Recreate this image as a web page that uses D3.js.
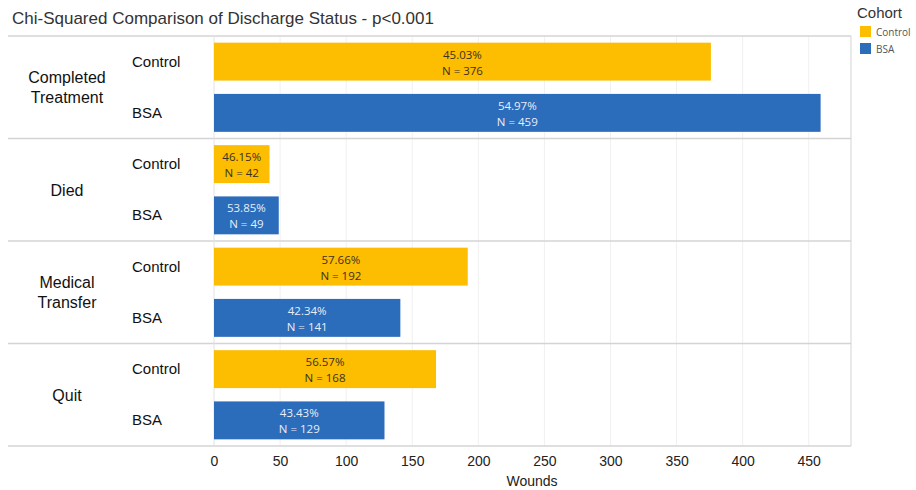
<!DOCTYPE html>
<html>
<head>
<meta charset="utf-8">
<script src="https://cdn.jsdelivr.net/npm/d3@7"></script>
<style>
  body { margin: 0; background: #fff; }
  svg { display: block; font-family: "Liberation Sans", Arial, sans-serif; }
</style>
</head>
<body>
<svg id="chart"></svg>
<script>
// Data
var groups = ["Completed Treatment", "Died", "Medical Transfer", "Quit"];
var groupLines = [["Completed", "Treatment"], ["Died"], ["Medical", "Transfer"], ["Quit"]];
var cohorts = ["Control", "BSA"];
var controlValues = [376, 42, 192, 168];
var bsaValues = [459, 49, 141, 129];
var controlPct = ["45.03%", "46.15%", "57.66%", "56.57%"];
var bsaPct = ["54.97%", "53.85%", "42.34%", "43.43%"];
var xTicks = [0, 50, 100, 150, 200, 250, 300, 350, 400, 450];

var colors = { Control: "#FDBD00", BSA: "#2B6CBB" };

var width = 916, height = 490;
var svg = d3.select("#chart").attr("width", width).attr("height", height);

// plot region (note: "top" is reserved on window, so use plotTop)
var plotLeft = 214, plotRight = 851, plotTop = 36, plotBottom = 446;

var x = d3.scaleLinear().domain([0, 482]).range([plotLeft, plotRight]);
var yGroup = d3.scaleBand().domain(groups).range([plotTop, plotBottom]);
var ySub = d3.scaleBand().domain(cohorts).range([0, yGroup.bandwidth()]).paddingInner(0.26).paddingOuter(0.13);

// build rows from arrays
var rows = [];
groups.forEach(function(g, i) {
    rows.push({ group: g, cohort: "Control", value: controlValues[i], pct: controlPct[i] });
    rows.push({ group: g, cohort: "BSA", value: bsaValues[i], pct: bsaPct[i] });
});

// title
svg.append("text")
    .attr("x", 12).attr("y", 24)
    .attr("font-size", "17px")
    .attr("fill", "#333")
    .text("Chi-Squared Comparison of Discharge Status - p<0.001");

// vertical gridlines
svg.append("g")
    .selectAll("line")
    .data(xTicks.slice(1))
    .enter().append("line")
        .attr("x1", d => x(d)).attr("x2", d => x(d))
        .attr("y1", plotTop).attr("y2", plotBottom)
        .attr("stroke", "#f0f0f0")
        .attr("stroke-width", 1);

// horizontal panel lines
var sepYs = groups.map(g => yGroup(g)).concat([plotBottom]);
svg.append("g")
    .selectAll("line")
    .data(sepYs)
    .enter().append("line")
        .attr("x1", 8).attr("x2", plotRight)
        .attr("y1", d => d).attr("y2", d => d)
        .attr("stroke", "#d4d4d4")
        .attr("stroke-width", 1.5);

// plot left/right borders
svg.append("line")
    .attr("x1", plotLeft).attr("x2", plotLeft).attr("y1", plotTop).attr("y2", plotBottom)
    .attr("stroke", "#e2e2e2");
svg.append("line")
    .attr("x1", plotRight).attr("x2", plotRight).attr("y1", plotTop).attr("y2", plotBottom)
    .attr("stroke", "#d4d4d4");

// group labels
var gl = svg.append("g").selectAll("text")
    .data(groups)
    .enter().append("text")
        .attr("x", 67)
        .attr("text-anchor", "middle")
        .attr("font-size", "16px")
        .attr("fill", "#111");
gl.each(function(g, i) {
    var lines = groupLines[i];
    var cy = yGroup(g) + yGroup.bandwidth() / 2;
    var t = d3.select(this);
    lines.forEach(function(l, j) {
        t.append("tspan")
            .attr("x", 67)
            .attr("y", cy + 6 + (j - (lines.length - 1) / 2) * 20)
            .text(l);
    });
});

// cohort labels
svg.append("g").selectAll("text")
    .data(rows)
    .enter().append("text")
        .attr("x", 132)
        .attr("y", d => yGroup(d.group) + ySub(d.cohort) + ySub.bandwidth() / 2 + 5)
        .attr("font-size", "15px")
        .attr("fill", "#111")
        .text(d => d.cohort);

// bars
svg.append("g").selectAll("rect")
    .data(rows)
    .enter().append("rect")
        .attr("x", x(0))
        .attr("y", d => yGroup(d.group) + ySub(d.cohort))
        .attr("width", d => x(d.value) - x(0))
        .attr("height", ySub.bandwidth())
        .attr("fill", d => colors[d.cohort]);

// bar labels
var bl = svg.append("g").selectAll("text")
    .data(rows)
    .enter().append("text")
        .attr("text-anchor", "middle")
        .attr("font-family", "'Open Sans', 'Noto Sans', sans-serif")
        .attr("font-size", "11.5px")
        .attr("fill", d => d.cohort == "Control" ? "#3a3220" : "#e8eef8");
bl.each(function(d) {
    var cx = (x(0) + x(d.value)) / 2;
    var cy = yGroup(d.group) + ySub(d.cohort) + ySub.bandwidth() / 2;
    var t = d3.select(this);
    t.append("tspan").attr("x", cx).attr("y", cy - 3).text(d.pct);
    t.append("tspan").attr("x", cx).attr("y", cy + 13).text("N = " + d.value);
});

// x axis
var xAxis = d3.axisBottom(x).tickValues(xTicks).tickSize(0).tickPadding(10);
var ax = svg.append("g")
    .attr("transform", "translate(0," + plotBottom + ")")
    .call(xAxis);
ax.select(".domain").remove();
ax.selectAll("text")
    .attr("font-family", "'Liberation Sans Narrow', 'Arial Narrow', sans-serif")
    .attr("font-size", "14px")
    .attr("fill", "#222");

svg.append("text")
    .attr("x", 532).attr("y", 486)
    .attr("text-anchor", "middle")
    .attr("font-family", "'Liberation Sans Narrow', 'Arial Narrow', sans-serif")
    .attr("font-size", "14px")
    .attr("fill", "#222")
    .text("Wounds");

// legend
svg.append("text")
    .attr("x", 857).attr("y", 18)
    .attr("font-size", "15px")
    .attr("fill", "#333")
    .text("Cohort");
var lg = svg.append("g").selectAll("g")
    .data(cohorts)
    .enter().append("g")
        .attr("transform", (d, i) => "translate(860," + (26 + i * 17) + ")");
lg.append("rect")
    .attr("width", 11).attr("height", 11)
    .attr("fill", d => colors[d]);
lg.append("text")
    .attr("x", 16).attr("y", 9.5)
    .attr("font-family", "'Open Sans', 'Noto Sans', sans-serif")
    .attr("font-size", "10px")
    .attr("fill", "#555")
    .text(d => d);
</script>
</body>
</html>
